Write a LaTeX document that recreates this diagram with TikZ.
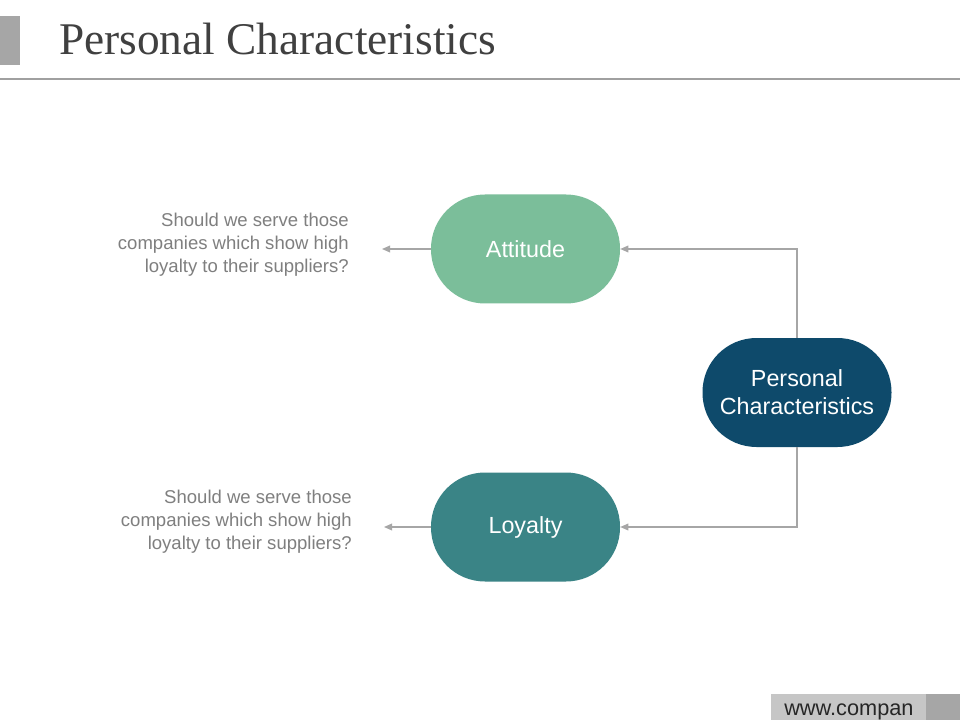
\documentclass[tikz,border=0pt]{standalone}
\usepackage{fontspec}
\setmainfont{Liberation Sans}
\newfontfamily\titlefont{Liberation Serif}
\usetikzlibrary{arrows.meta}
\definecolor{titlegray}{HTML}{404040}
\definecolor{bargray}{HTML}{A6A6A6}
\definecolor{rulegray}{HTML}{A0A0A0}
\definecolor{linkgray}{HTML}{A6A6A6}
\definecolor{textgray}{HTML}{7F7F7F}
\definecolor{attgreen}{HTML}{7BBE9A}
\definecolor{loyteal}{HTML}{3A8486}
\definecolor{pcblue}{HTML}{0E4A6B}
\definecolor{footlight}{HTML}{C6C6C6}
\tikzset{
  pill/.style={rounded corners=40.5pt, minimum width=141.75pt, minimum height=81.75pt,
    inner sep=0pt, text=white, align=center, font=\fontsize{17.5}{21}\selectfont},
  link/.style={draw=linkgray, line width=0.9pt, -{Triangle[length=6pt,width=5pt]}},
  note/.style={text=textgray, align=right, anchor=east, inner sep=0pt,
    font=\fontsize{13.9}{17.25}\selectfont}
}
\begin{document}
\begin{tikzpicture}[x=0.75pt,y=-0.75pt]
\useasboundingbox (0,0) rectangle (960,720);
\fill[white] (0,0) rectangle (960,720);
% header
\fill[bargray] (0,16) rectangle (20,65);
\node[anchor=base west, inner sep=0pt, text=titlegray, font=\titlefont\fontsize{34}{40}\selectfont] (title) at (59,55) {Personal Characteristics};
\draw[rulegray, line width=0.9pt] (0,79) -- (960,79);
% nodes
\node[pill, fill=attgreen] (att) at (525.5,249) {Attitude};
\node[pill, fill=loyteal] (loy) at (525.5,527) {Loyalty};
\node[pill, fill=pcblue] (pc) at (797,392.5) {Personal\\Characteristics};
% notes
\node[note] (n1) at (349,244.5) {Should we serve those\\companies which show high\\loyalty to their suppliers?};
\node[note] (n2) at (352,521.5) {Should we serve those\\companies which show high\\loyalty to their suppliers?};
\coordinate (e1) at (382,249);
\coordinate (e2) at (384,527);
% connectors
\draw[link] (pc.north) |- (att.east);
\draw[link] (pc.south) |- (loy.east);
\draw[link] (att.west) -- (e1);
\draw[link] (loy.west) -- (e2);
% footer
\fill[footlight] (771,694) rectangle (926,720);
\fill[bargray] (926,694) rectangle (960,720);
\node[anchor=base west, inner sep=0pt, text=black!85, font=\fontsize{16.3}{18}\selectfont] (url) at (784,715) {www.compan};
\end{tikzpicture}
\end{document}
